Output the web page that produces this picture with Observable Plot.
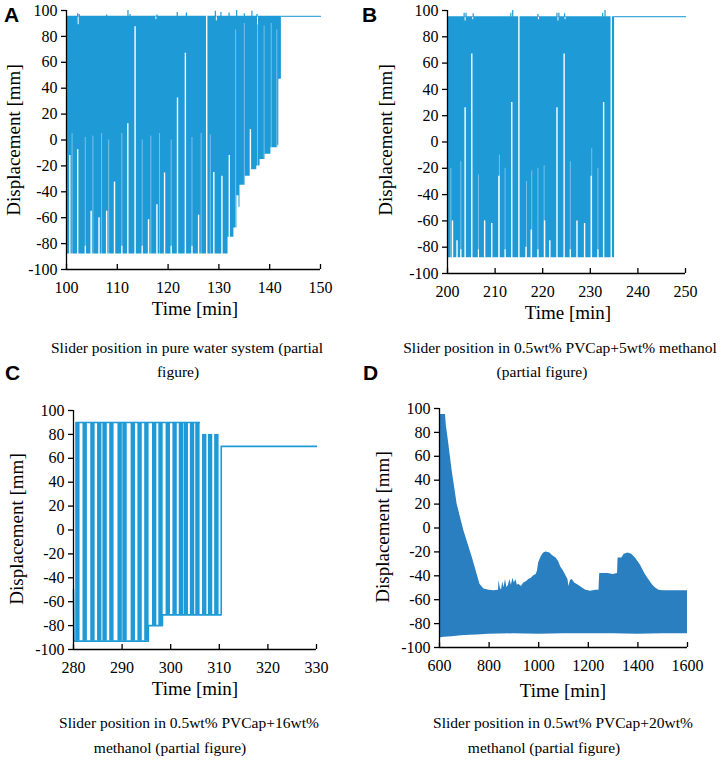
<!DOCTYPE html>
<html><head><meta charset="utf-8">
<script src="https://cdn.jsdelivr.net/npm/d3@7"></script>
<script src="https://cdn.jsdelivr.net/npm/@observablehq/plot@0.6"></script>
<style>
body{margin:0;background:#fff;}
#root{position:relative;width:720px;height:762px;overflow:hidden;font-family:"Liberation Serif",serif;color:#000;background:#fff;}
.panel{position:absolute;}
.panel svg text{font-family:"Liberation Serif",serif !important;}
.t{position:absolute;white-space:nowrap;transform:translate(-50%,-50%);line-height:1;font-family:"Liberation Serif",serif;}
.yt{position:absolute;white-space:nowrap;transform:translate(-50%,-50%) rotate(-90deg);font-size:19px;line-height:1;font-family:"Liberation Serif",serif;}
.xt{font-size:19px;}
.cap{font-size:15.5px;}
.lab{position:absolute;font-family:"Liberation Sans",Arial,sans-serif;font-weight:bold;font-size:21px;line-height:1;transform:translate(0,-50%);}
</style></head><body><div id="root"></div>
<script>
// ---------- shared ----------
const yTicks = [-100, -80, -60, -40, -20, 0, 20, 40, 60, 80, 100];

// ---------- Panel A: pure water ----------
const aXTicks = [100, 110, 120, 130, 140, 150];
const aTop = 95.5;
const aLowX = [100, 131.8, 132.95, 133.55, 133.95, 134.15, 135.2, 136.3, 137.45, 138.1, 139.1, 140.25, 141.6, 141.8, 142.3];
const aLowY = [-88, -75, -68, -43, -52, -35, -28, -23, -20, -15, -11, -6, -4, 47, 47];
const aGapX = [100.65, 102.2, 104.85, 106.4, 107.9, 109.45, 112.07, 113.5, 116.15, 117.8, 119.3, 121.85, 123.4, 126.0, 127.6, 129.0, 130.6, 132.05, 136.2];
const aGapTop = [-12, -7.5, -55, -60, -55, -32.5, 12.5, 87.5, -61.5, -50, -25.5, 32.5, 67, -58, 96, -25, -28, -12, 8];
const aFaintX = [101.1, 103.7, 105.2, 106.9, 108.3, 110.9, 114.9, 116.6, 118.3, 120.6, 124.7, 126.5, 128.3, 133.3, 135.0, 137.6, 138.9, 140.3, 141.4];
const aFaintTop = [5, 2, 3, 5, 0, 5, 0, 3, 5, 0, 2, 5, 4, 85, 90, 92, 88, 90, 85];
const aNotchX = [103.7, 110.9, 114.9, 120.6, 124.7];
const aSpikeX = [102.2, 102.5, 107.9, 112.1, 112.5, 117.8, 121.8, 123.6, 129.3, 130.4, 132.0, 133.5, 135.0, 136.5, 137.5];
const aSpikeTop = [97.5, 97, 96.5, 100, 97, 96.5, 98.5, 98, 99.5, 98.5, 98, 100, 97.5, 99.5, 97];
const aDipX = [102.3, 117.6, 129.5, 137.6];
const aDipBottom = [89, 93, 92, 89];
const aTailX = [142.3, 150];
const aTailY = [95.5, 95.5];

// ---------- Panel B: 0.5wt% PVCap + 5wt% methanol ----------
const bXTicks = [200, 210, 220, 230, 240, 250];
const bTop = 95.3;
const bLowX = [200, 235.1];
const bLowY = [-88, -88];
const bGapX = [201.05, 202.0, 203.7, 205.1, 207.8, 209.3, 210.8, 213.5, 215.0, 216.5, 217.6, 220.4, 221.5, 223.0, 224.5, 227.2, 228.8, 230.2, 232.8, 234.4];
const bGapTop = [-60, -75, 26, 67, -60, -62, -26, 30, 96, -80, -67, -60, -75, 26, 67, -60, -62, -26, 30, 96];
const bFaintX = [200.7, 202.8, 206.5, 210.9, 212.1, 216.6, 217.7, 219.0, 220.3, 225.8, 230.3, 231.6];
const bFaintTop = [-20, -15, -25, -10, -20, -30, -22, -20, -18, -15, -5, -20];
const bNotchX = [202.8, 206.5, 212.1, 219.0, 225.8, 231.6];
const bSpikeX = [203.5, 203.9, 205.4, 213.3, 213.7, 219.0, 223.0, 223.4, 224.6, 232.6, 233.1];
const bSpikeTop = [98, 98, 97.5, 98, 100, 97, 98, 98, 97.5, 98, 100];
const bDipX = [203.7, 205.3, 219.1, 223.2, 224.7];
const bDipBottom = [92, 93, 93, 92, 93];
const bTailX = [235.1, 250];
const bTailY = [95.3, 95.3];

// ---------- Panel C: 0.5wt% PVCap + 16wt% methanol ----------
const cXTicks = [280, 290, 300, 310, 320, 330];
const cBarX = [280.9, 282.4, 284.0, 285.4, 286.5, 287.9, 289.6, 290.6, 292.3, 293.7, 295.1, 296.7, 298.0, 299.5, 300.9, 302.2, 303.2, 304.5, 305.6, 307.0, 308.2, 309.5];
const cBarTop = [90, 90, 90, 90, 90, 90, 90, 90, 90, 90, 90, 90, 90, 90, 90, 90, 90, 90, 90, 80, 80, 80];
const cBarBottom = [-93, -93, -93, -93, -93, -93, -93, -93, -93, -93, -93, -80, -80, -71, -71, -71, -71, -71, -71, -71, -71, -71];
const cTopX = [280.6, 305.9];
const cTopY = [90, 90];
const cBaseX = [280, 280.1, 295.4, 295.4, 298.3, 298.3, 310.4, 310.4, 330];
const cBaseY = [-50, -93, -93, -80, -80, -71, -71, 70, 70];

// ---------- Panel D: 0.5wt% PVCap + 20wt% methanol ----------
const dXTicks = [600, 800, 1000, 1200, 1400, 1600];
const dHighX = [600, 624, 628, 634, 651, 671, 698, 732, 763, 779, 800, 820, 838, 840, 845, 850, 855, 860, 866, 872, 878, 884, 890, 896, 902, 908, 914, 920, 930, 940, 950, 960, 970, 980, 990, 995, 1000, 1010, 1020, 1030, 1045, 1055, 1070, 1080, 1090, 1100, 1110, 1118, 1122, 1128, 1135, 1145, 1160, 1175, 1190, 1210, 1230, 1243, 1246, 1280, 1300, 1318, 1320, 1335, 1345, 1360, 1375, 1390, 1400, 1410, 1420, 1430, 1440, 1450, 1460, 1470, 1485, 1500, 1550, 1600];
const dHighY = [95, 95, 85, 76, 48, 20, -2, -24.5, -47, -51, -52, -52.5, -52, -44, -50, -52, -45, -50, -43, -50, -48, -43, -48, -42, -46, -43, -48, -47, -49, -46, -45, -43, -42, -40, -39, -36, -29, -24, -21, -20, -21, -23, -25, -28, -33, -36, -40, -43, -49, -44, -43, -46, -48, -50, -52, -53, -52, -52, -38, -38, -39, -38, -25, -25, -22, -21, -22, -25, -28, -31, -35, -39, -42, -45, -48, -50, -52, -52.5, -52.5, -52.5];
const dLowX = [600, 620, 650, 700, 750, 800, 900, 1000, 1100, 1200, 1300, 1400, 1500, 1600];
const dLowY = [-92, -91.5, -91, -90, -89.5, -89, -88.5, -89, -88.5, -88.5, -88.5, -89, -88.5, -88.5];

// ---------- colours ----------
const blue = "#1e9ad6";
const blueLight = "#45a9de";
const blueD = "#2a7fc1";

const zip = (xs, ys) => xs.map((x, i) => ({x, y: ys[i]}));
const root = document.getElementById("root");
const serif = "Liberation Serif, serif";

function panel({left, top, width, height, mL, mR, mT, mB, xDomain, xTicks, marks}) {
  const svg = Plot.plot({
    width, height,
    marginLeft: mL, marginRight: mR, marginTop: mT, marginBottom: mB,
    style: {fontFamily: serif, fontSize: "16px", color: "#000", background: "transparent", overflow: "visible"},
    x: {domain: xDomain},
    y: {domain: [-100, 100]},
    marks: [
      ...marks,
      Plot.ruleX([xDomain[0]], {stroke: "#000", strokeWidth: 1.3}),
      Plot.ruleY([-100], {stroke: "#000", strokeWidth: 1.3}),
      Plot.axisY(yTicks, {tickSize: 5, tickPadding: 4, label: null, strokeWidth: 1.3, fontSize: 16, fontFamily: serif, tickFormat: d => String(d)}),
      Plot.axisX(xTicks, {tickSize: -5, tickPadding: 17, label: null, strokeWidth: 1.3, fontSize: 16, fontFamily: serif, tickFormat: d => String(d)})
    ]
  });
  const div = document.createElement("div");
  div.className = "panel";
  div.style.left = left + "px";
  div.style.top = top + "px";
  div.appendChild(svg);
  root.appendChild(div);
}

function envelopeMarks(c) {
  return [
    Plot.areaY(zip(c.lowX, c.lowY), {x: "x", y1: "y", y2: c.top, curve: "step-after", fill: blue}),
    Plot.ruleX(zip(c.faintX, c.faintTop), {x: "x", y1: -89, y2: "y", stroke: "#fff", strokeOpacity: 0.5, strokeWidth: 0.8}),
    Plot.ruleX(c.notchX, {x: d => d, y1: -89, y2: -82, stroke: "#fff", strokeWidth: 1.2}),
    Plot.ruleX(zip(c.gapX, c.gapTop), {x: "x", y1: -89, y2: "y", stroke: "#fff", strokeWidth: 1.4}),
    Plot.ruleX(zip(c.dipX, c.dipBottom), {x: "x", y1: "y", y2: c.top - 0.4, stroke: "#fff", strokeWidth: 1}),
    Plot.ruleX(zip(c.spikeX, c.spikeTop), {x: "x", y1: c.top - 0.5, y2: "y", stroke: blue, strokeWidth: 1.2}),
    Plot.line(zip(c.tailX, c.tailY), {x: "x", y: "y", stroke: blueLight, strokeWidth: 1.3})
  ];
}

// Panel A
panel({left: 0, top: 0, width: 340, height: 320, mL: 66, mR: 20, mT: 10, mB: 51,
  xDomain: [100, 150], xTicks: aXTicks,
  marks: envelopeMarks({lowX: aLowX, lowY: aLowY, top: aTop, faintX: aFaintX, faintTop: aFaintTop,
    notchX: aNotchX, gapX: aGapX, gapTop: aGapTop, dipX: aDipX, dipBottom: aDipBottom,
    spikeX: aSpikeX, spikeTop: aSpikeTop, tailX: aTailX, tailY: aTailY})});

// Panel B
panel({left: 360, top: 0, width: 360, height: 320, mL: 87, mR: 35, mT: 10, mB: 47,
  xDomain: [200, 250], xTicks: bXTicks,
  marks: envelopeMarks({lowX: bLowX, lowY: bLowY, top: bTop, faintX: bFaintX, faintTop: bFaintTop,
    notchX: bNotchX, gapX: bGapX, gapTop: bGapTop, dipX: bDipX, dipBottom: bDipBottom,
    spikeX: bSpikeX, spikeTop: bSpikeTop, tailX: bTailX, tailY: bTailY})});

// Panel C
const cBars = cBarX.map((x, i) => ({x, top: cBarTop[i], bottom: cBarBottom[i]}));
panel({left: 0, top: 390, width: 340, height: 300, mL: 73, mR: 24, mT: 20, mB: 41,
  xDomain: [280, 330], xTicks: cXTicks,
  marks: [
    Plot.rect(cBars, {x1: d => d.x - 0.45, x2: d => d.x + 0.45, y1: "bottom", y2: "top", fill: blue}),
    Plot.line(zip(cTopX, cTopY), {x: "x", y: "y", stroke: blue, strokeWidth: 1.6}),
    Plot.line(zip(cBaseX, cBaseY), {x: "x", y: "y", stroke: blue, strokeWidth: 1.6})
  ]});

// Panel D
panel({left: 360, top: 390, width: 360, height: 300, mL: 79, mR: 33, mT: 18, mB: 43,
  xDomain: [600, 1600], xTicks: dXTicks,
  marks: [
    Plot.areaY(zip(dHighX, dHighY), {x: "x", y1: -87, y2: "y", fill: blueD}),
    Plot.areaY(zip(dLowX, dLowY), {x: "x", y1: "y", y2: -84, fill: blueD})
  ]});

// ---------- texts ----------
function addText(cls, txt, x, y) {
  const d = document.createElement("div");
  d.className = cls;
  d.textContent = txt;
  d.style.left = x + "px";
  d.style.top = y + "px";
  root.appendChild(d);
}
addText("lab", "A", 4, 14);
addText("lab", "B", 362, 14);
addText("lab", "C", 5, 372);
addText("lab", "D", 363, 372);

addText("yt", "Displacement [mm]", 13, 140);
addText("yt", "Displacement [mm]", 385, 140);
addText("yt", "Displacement [mm]", 16, 529);
addText("yt", "Displacement [mm]", 382, 527);

addText("t xt", "Time [min]", 195, 308);
addText("t xt", "Time [min]", 568, 312);
addText("t xt", "Time [min]", 195, 688);
addText("t xt", "Time [min]", 563, 690);

addText("t cap", "Slider position in pure water system (partial", 187, 348);
addText("t cap", "figure)", 178, 372);
addText("t cap", "Slider position in 0.5wt% PVCap+5wt% methanol", 560, 348);
addText("t cap", "(partial figure)", 542, 372);
addText("t cap", "Slider position in 0.5wt% PVCap+16wt%", 189, 723);
addText("t cap", "methanol (partial figure)", 170, 748);
addText("t cap", "Slider position in 0.5wt% PVCap+20wt%", 563, 723);
addText("t cap", "methanol (partial figure)", 544, 748);
</script></body></html>
